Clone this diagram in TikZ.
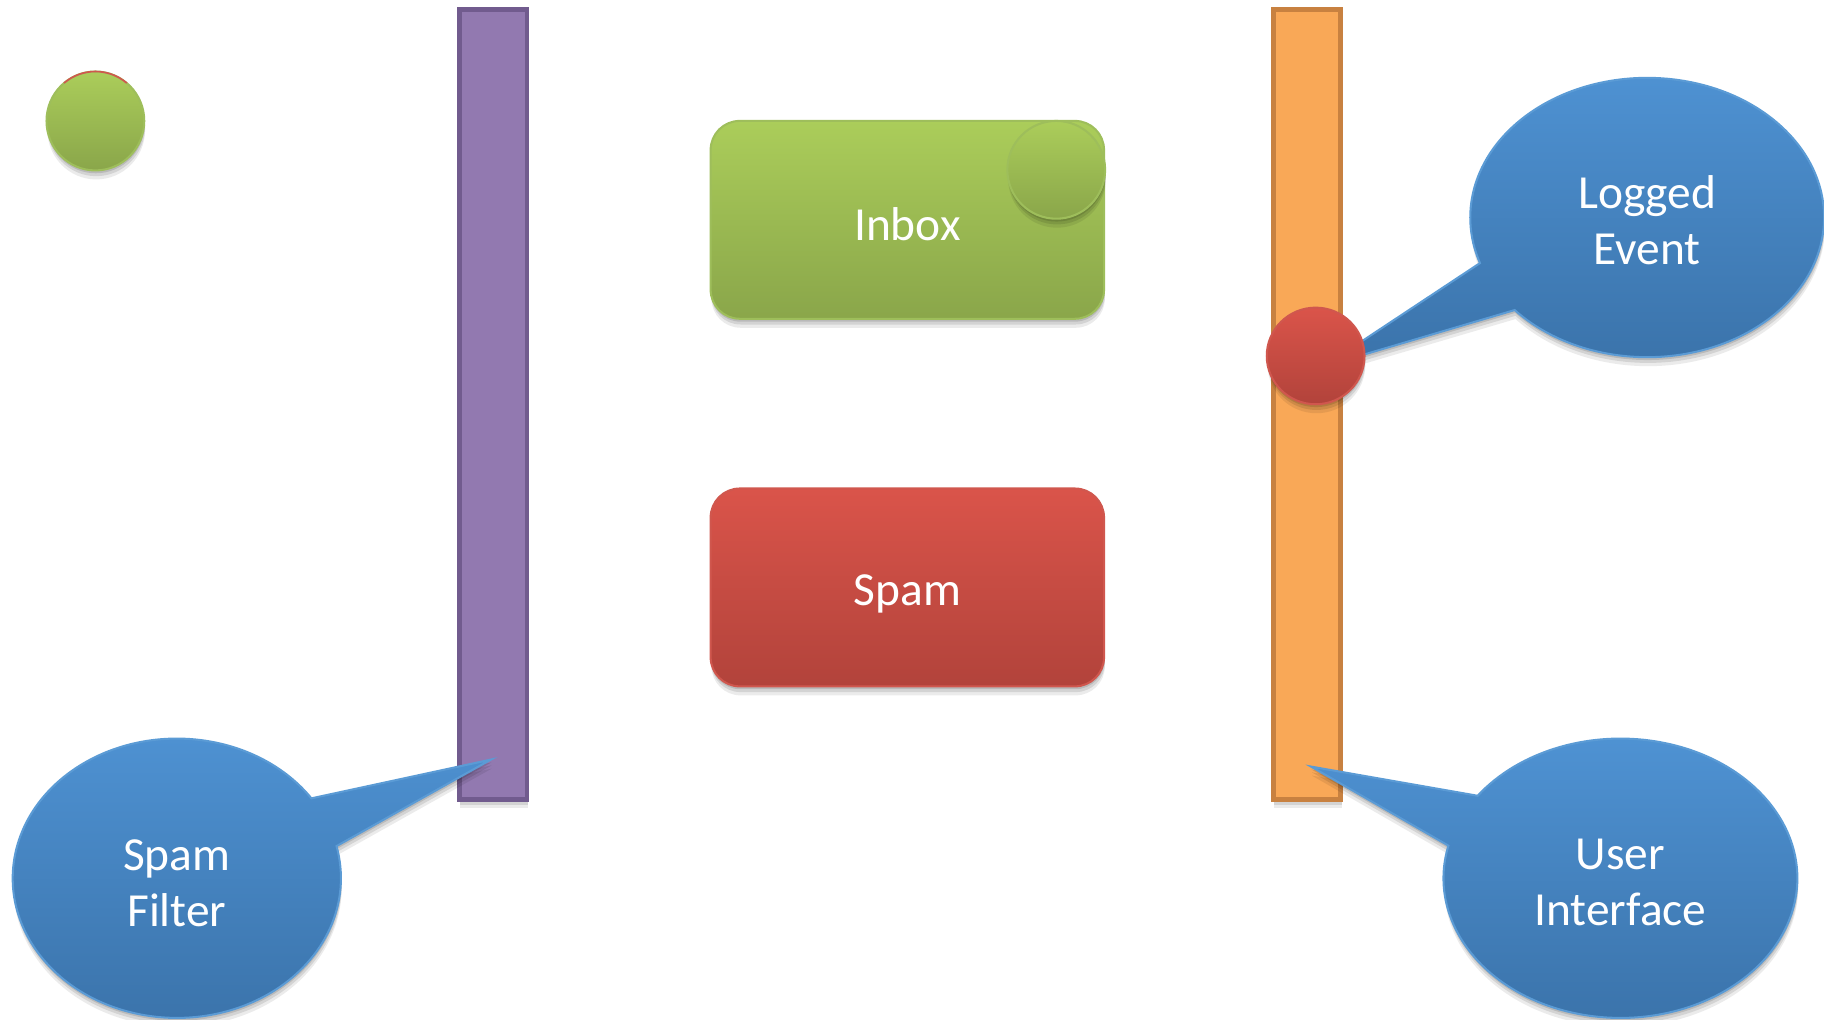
\documentclass[tikz,border=0pt]{standalone}
\usepackage{fontspec}
\setmainfont{Carlito}
\usetikzlibrary{shadows,shapes.geometric}
\definecolor{grT}{HTML}{ABCD5A}
\definecolor{grB}{HTML}{8AA64A}
\definecolor{grL}{HTML}{9EBE5B}
\definecolor{rdT}{HTML}{DA544A}
\definecolor{rdB}{HTML}{B2433B}
\definecolor{rdL}{HTML}{D0574E}
\definecolor{blT}{HTML}{4F93D4}
\definecolor{blB}{HTML}{3A72A9}
\definecolor{blL}{HTML}{5B9BD5}
\definecolor{puF}{HTML}{9279B0}
\definecolor{puL}{HTML}{715B8E}
\definecolor{orF}{HTML}{F9A857}
\definecolor{orL}{HTML}{C88140}
\tikzset{
  mysh/.style={drop shadow={shadow xshift=0.2pt,shadow yshift=-2.2pt,opacity=0.08,fill=black},
               drop shadow={shadow xshift=0.2pt,shadow yshift=-1.4pt,opacity=0.10,fill=black},
               drop shadow={shadow xshift=0.1pt,shadow yshift=-0.7pt,opacity=0.12,fill=black}},
  greenfill/.style={top color=grT,bottom color=grB,draw=grL,line width=0.5pt},
  redfill/.style={top color=rdT,bottom color=rdB,draw=rdL,line width=0.5pt},
  bluefill/.style={top color=blT,bottom color=blB,draw=blL,line width=0.5pt},
  bar/.style={rectangle,minimum width=0.58cm,minimum height=6.79cm,line width=1.2pt,inner sep=0pt,mysh},
  box/.style={rectangle,rounded corners=0.25cm,minimum width=3.38cm,minimum height=1.70cm,inner sep=0pt,mysh},
  lbl/.style={text=white,font=\fontsize{11.6}{13.7}\selectfont,align=center,inner sep=0pt},
  dot/.style={ellipse,minimum width=0.84cm,minimum height=0.84cm,inner sep=0pt,mysh}
}
\begin{document}
\begin{tikzpicture}[x=0.01cm,y=0.01cm]
\useasboundingbox (0,0) rectangle (1568,876);
% bars
\node[bar,fill=puF,draw=puL] (pbar) at (424,528.5) {};
\node[bar,fill=orF,draw=orL] (obar) at (1123.5,528.5) {};
% small green circle
\node[dot,greenfill,minimum height=0.85cm] (gdot) at (82,772) {};
\draw[rdL,line width=0.4pt] (gdot.center) ++(50:0.42cm and 0.425cm) arc[start angle=50,end angle=130,x radius=0.42cm,y radius=0.425cm];
% boxes
\node[box,greenfill] (inbox) at (780,687) {};
\node[dot,greenfill] (idot) at (908,730) {};
\node[lbl] at (780,683) {Inbox};
\node[box,redfill] (spam) at (780,371) {};
\node[lbl] at (780,365) {Spam};
% callouts
\coordinate (lec) at (1416,689);
\coordinate (let) at (1138,561);
\path[bluefill,mysh] (lec) ++(221.5:1.52cm and 1.20cm)
  arc[start angle=221.5,end angle=559.05,x radius=1.52cm,y radius=1.20cm] -- (let) -- cycle;
\node[lbl] (le) at (1416,687) {Logged\\Event};
\coordinate (sfc) at (152,121);
\coordinate (sft) at (422,223);
\path[bluefill,mysh] (sfc) ++(34.9:1.41cm and 1.20cm)
  arc[start angle=34.9,end angle=373.3,x radius=1.41cm,y radius=1.20cm] -- (sft) -- cycle;
\node[lbl] (sf) at (152,117) {Spam\\Filter};
\coordinate (uic) at (1393,121);
\coordinate (uit) at (1127,217);
\path[bluefill,mysh] (uic) ++(166.5:1.52cm and 1.20cm)
  arc[start angle=166.5,end angle=503.8,x radius=1.52cm,y radius=1.20cm] -- (uit) -- cycle;
\node[lbl] (ui) at (1393,117) {User\\Interface};
% red event dot
\node[dot,redfill,minimum height=0.83cm] (rdot) at (1131,570) {};
\end{tikzpicture}
\end{document}
